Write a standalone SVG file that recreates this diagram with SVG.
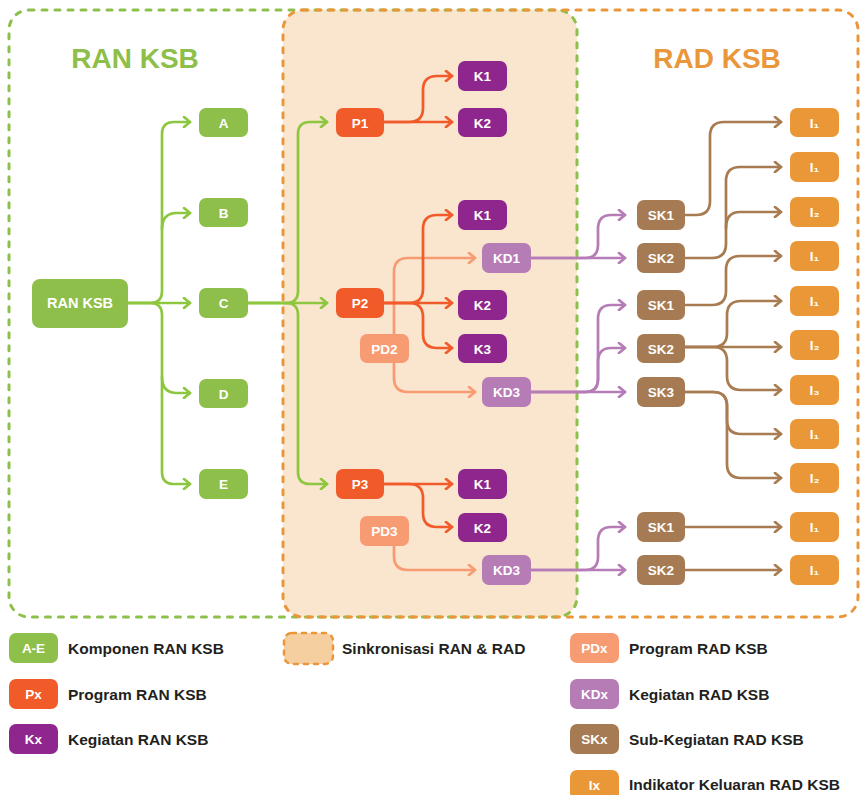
<svg xmlns="http://www.w3.org/2000/svg" width="861" height="795" viewBox="0 0 861 795">
<style>
text{font-family:"Liberation Sans",Arial,sans-serif;font-weight:bold}
.nt{fill:#fff;font-size:13.5px;text-anchor:middle}
.lt{fill:#231F20;font-size:15.5px}
.ttl{font-size:28px;text-anchor:middle}
.c{fill:none;stroke-width:2.7;stroke-linecap:round;stroke-linejoin:round}
.g{stroke:#8DC63F}.r{stroke:#F15A29}.s{stroke:#F79C72}.p{stroke:#B57CB6}.b{stroke:#A87B50}
.fg{fill:#8DBF4A}.fr{fill:#F15A29}.fk{fill:#8E268D}.fs{fill:#F79C72}.fp{fill:#B57CB6}.fb{fill:#A67A52}.fi{fill:#EA9837}
</style>
<defs>
<marker id="ag" viewBox="-8 -6 10 12" refX="0" refY="0" markerWidth="10" markerHeight="12" markerUnits="userSpaceOnUse" orient="auto"><path d="M-6,-5 L0,0 L-6,5" fill="none" stroke="#8DC63F" stroke-width="2.7" stroke-linecap="round" stroke-linejoin="round"/></marker>
<marker id="ar" viewBox="-8 -6 10 12" refX="0" refY="0" markerWidth="10" markerHeight="12" markerUnits="userSpaceOnUse" orient="auto"><path d="M-6,-5 L0,0 L-6,5" fill="none" stroke="#F15A29" stroke-width="2.7" stroke-linecap="round" stroke-linejoin="round"/></marker>
<marker id="as" viewBox="-8 -6 10 12" refX="0" refY="0" markerWidth="10" markerHeight="12" markerUnits="userSpaceOnUse" orient="auto"><path d="M-6,-5 L0,0 L-6,5" fill="none" stroke="#F79C72" stroke-width="2.7" stroke-linecap="round" stroke-linejoin="round"/></marker>
<marker id="ap" viewBox="-8 -6 10 12" refX="0" refY="0" markerWidth="10" markerHeight="12" markerUnits="userSpaceOnUse" orient="auto"><path d="M-6,-5 L0,0 L-6,5" fill="none" stroke="#B57CB6" stroke-width="2.7" stroke-linecap="round" stroke-linejoin="round"/></marker>
<marker id="ab" viewBox="-8 -6 10 12" refX="0" refY="0" markerWidth="10" markerHeight="12" markerUnits="userSpaceOnUse" orient="auto"><path d="M-6,-5 L0,0 L-6,5" fill="none" stroke="#A87B50" stroke-width="2.7" stroke-linecap="round" stroke-linejoin="round"/></marker>
</defs>

<g id="containers">
<rect x="283" y="10" width="294" height="607" rx="20" fill="#FAE5CF"/>
<rect x="9" y="10" width="568" height="607" rx="20" fill="none" stroke="#8DC04A" stroke-width="3" stroke-dasharray="5 8" stroke-linecap="round"/>
<rect x="283" y="10" width="575" height="607" rx="20" fill="none" stroke="#E9973A" stroke-width="3" stroke-dasharray="5 8" stroke-linecap="round"/>
<text class="ttl" x="135" y="68" fill="#8DBF4A">RAN KSB</text>
<text class="ttl" x="717" y="68" fill="#E9973A">RAD KSB</text>
</g>

<g id="connectors">
<g class="c g" marker-end="url(#ag)">
<path d="M128,303 H150 Q162,303 162,291 V134 Q162,122 174,122 H190"/>
<path d="M162,229 Q162,213 177,213 H190"/>
<path d="M128,303 H190"/>
<path d="M162,377 Q162,393 177,393 H190"/>
<path d="M128,303 H150 Q162,303 162,315 V472 Q162,484 174,484 H190"/>
<path d="M248,303 H286 Q298,303 298,291 V134 Q298,122 310,122 H327"/>
<path d="M248,303 H327"/>
<path d="M248,303 H286 Q298,303 298,315 V472 Q298,484 310,484 H327"/>
</g>
<g class="c s" marker-end="url(#as)">
<path d="M394,334 V272 Q394,258 408,258 H475"/>
<path d="M394,363 V378 Q394,392 408,392 H475"/>
<path d="M394,546 V556 Q394,570 408,570 H475"/>
</g>
<g class="c r" marker-end="url(#ar)">
<path d="M384,122 H452"/>
<path d="M384,122 H409 Q423,122 423,108 V90 Q423,76 437,76 H452"/>
<path d="M384,303 H452"/>
<path d="M384,303 H409 Q423,303 423,289 V229 Q423,215 437,215 H452"/>
<path d="M384,303 H409 Q423,303 423,317 V334 Q423,348 437,348 H452"/>
<path d="M384,484 H452"/>
<path d="M384,484 H409 Q423,484 423,498 V513 Q423,527 437,527 H452"/>
</g>
<g class="c p" marker-end="url(#ap)">
<path d="M531,258 H625"/>
<path d="M531,258 H585 Q598,258 598,245 V229 Q598,215 611,215 H625"/>
<path d="M531,392 H625"/>
<path d="M531,392 H585 Q598,392 598,379 V362 Q598,348 611,348 H625"/>
<path d="M531,392 H585 Q598,392 598,379 V319 Q598,305 611,305 H625"/>
<path d="M531,570 H625"/>
<path d="M531,570 H585 Q598,570 598,557 V541 Q598,527 611,527 H625"/>
</g>
<g class="c b" marker-end="url(#ab)">
<path d="M685,215 H696 Q710,215 710,201 V136 Q710,122 724,122 H781"/>
<path d="M685,258 H712 Q726,258 726,244 V181 Q726,167 740,167 H781"/>
<path d="M726,228 Q726,212 740,212 H781"/>
<path d="M685,305 H712 Q726,305 726,291 V270 Q726,256 740,256 H781"/>
<path d="M685,347 H781"/>
<path d="M685,347 H713 Q727,347 727,333 V315 Q727,301 741,301 H781"/>
<path d="M685,347 H713 Q727,347 727,361 V376 Q727,390 741,390 H781"/>
<path d="M685,392 H713 Q727,392 727,406 V420 Q727,434 741,434 H781"/>
<path d="M685,392 H713 Q727,392 727,406 V464 Q727,478 741,478 H781"/>
<path d="M685,527 H781"/>
<path d="M685,570 H781"/>
</g>
</g>

<g id="n-ran"><rect class="fg" x="32" y="279" width="96" height="49" rx="8"/><text class="nt" x="80" y="308" style="font-size:14.5px">RAN KSB</text></g>
<g id="n-a"><rect class="fg" x="199" y="108" width="49" height="29" rx="7"/><text class="nt" x="223.5" y="127.5">A</text></g>
<g id="n-b"><rect class="fg" x="199" y="198" width="49" height="29" rx="7"/><text class="nt" x="223.5" y="217.5">B</text></g>
<g id="n-c"><rect class="fg" x="199" y="288" width="49" height="30" rx="7"/><text class="nt" x="223.5" y="308">C</text></g>
<g id="n-d"><rect class="fg" x="199" y="379" width="49" height="29" rx="7"/><text class="nt" x="223.5" y="398.5">D</text></g>
<g id="n-e"><rect class="fg" x="199" y="469" width="49" height="30" rx="7"/><text class="nt" x="223.5" y="489">E</text></g>

<g id="n-p1"><rect class="fr" x="336" y="108" width="48" height="29" rx="7"/><text class="nt" x="360" y="127.5">P1</text></g>
<g id="n-p2"><rect class="fr" x="336" y="288" width="48" height="30" rx="7"/><text class="nt" x="360" y="308">P2</text></g>
<g id="n-p3"><rect class="fr" x="336" y="469" width="48" height="30" rx="7"/><text class="nt" x="360" y="489">P3</text></g>

<g id="n-p1k1"><rect class="fk" x="458" y="61" width="49" height="30" rx="7"/><text class="nt" x="482.5" y="81">K1</text></g>
<g id="n-p1k2"><rect class="fk" x="458" y="108" width="49" height="29" rx="7"/><text class="nt" x="482.5" y="127.5">K2</text></g>
<g id="n-p2k1"><rect class="fk" x="458" y="200" width="49" height="30" rx="7"/><text class="nt" x="482.5" y="220">K1</text></g>
<g id="n-p2k2"><rect class="fk" x="458" y="290" width="49" height="30" rx="7"/><text class="nt" x="482.5" y="310">K2</text></g>
<g id="n-p2k3"><rect class="fk" x="458" y="334" width="49" height="29" rx="7"/><text class="nt" x="482.5" y="353.5">K3</text></g>
<g id="n-p3k1"><rect class="fk" x="458" y="469" width="49" height="30" rx="7"/><text class="nt" x="482.5" y="489">K1</text></g>
<g id="n-p3k2"><rect class="fk" x="458" y="513" width="49" height="29" rx="7"/><text class="nt" x="482.5" y="532.5">K2</text></g>

<g id="n-pd2"><rect class="fs" x="360" y="334" width="49" height="29" rx="7"/><text class="nt" x="384.5" y="353.5">PD2</text></g>
<g id="n-pd3"><rect class="fs" x="360" y="516" width="49" height="30" rx="7"/><text class="nt" x="384.5" y="536">PD3</text></g>

<g id="n-kd1"><rect class="fp" x="482" y="243" width="49" height="30" rx="7"/><text class="nt" x="506.5" y="263">KD1</text></g>
<g id="n-kd3a"><rect class="fp" x="482" y="377" width="49" height="30" rx="7"/><text class="nt" x="506.5" y="397">KD3</text></g>
<g id="n-kd3b"><rect class="fp" x="482" y="555" width="49" height="30" rx="7"/><text class="nt" x="506.5" y="575">KD3</text></g>

<g id="n-sk1a"><rect class="fb" x="637" y="200" width="48" height="30" rx="7"/><text class="nt" x="661" y="220">SK1</text></g>
<g id="n-sk2a"><rect class="fb" x="637" y="243" width="48" height="30" rx="7"/><text class="nt" x="661" y="263">SK2</text></g>
<g id="n-sk1b"><rect class="fb" x="637" y="290" width="48" height="30" rx="7"/><text class="nt" x="661" y="310">SK1</text></g>
<g id="n-sk2b"><rect class="fb" x="637" y="334" width="48" height="29" rx="7"/><text class="nt" x="661" y="353.5">SK2</text></g>
<g id="n-sk3b"><rect class="fb" x="637" y="377" width="48" height="30" rx="7"/><text class="nt" x="661" y="397">SK3</text></g>
<g id="n-sk1c"><rect class="fb" x="637" y="512" width="48" height="30" rx="7"/><text class="nt" x="661" y="532">SK1</text></g>
<g id="n-sk2c"><rect class="fb" x="637" y="555" width="48" height="30" rx="7"/><text class="nt" x="661" y="575">SK2</text></g>

<g id="n-i1"><rect class="fi" x="790" y="108" width="49" height="29" rx="7"/><text class="nt" x="814.5" y="127.5">I₁</text></g>
<g id="n-i2"><rect class="fi" x="790" y="152" width="49" height="30" rx="7"/><text class="nt" x="814.5" y="172">I₁</text></g>
<g id="n-i3"><rect class="fi" x="790" y="197" width="49" height="30" rx="7"/><text class="nt" x="814.5" y="217">I₂</text></g>
<g id="n-i4"><rect class="fi" x="790" y="241" width="49" height="30" rx="7"/><text class="nt" x="814.5" y="261">I₁</text></g>
<g id="n-i5"><rect class="fi" x="790" y="286" width="49" height="30" rx="7"/><text class="nt" x="814.5" y="306">I₁</text></g>
<g id="n-i6"><rect class="fi" x="790" y="330" width="49" height="30" rx="7"/><text class="nt" x="814.5" y="350">I₂</text></g>
<g id="n-i7"><rect class="fi" x="790" y="375" width="49" height="30" rx="7"/><text class="nt" x="814.5" y="395">I₃</text></g>
<g id="n-i8"><rect class="fi" x="790" y="419" width="49" height="30" rx="7"/><text class="nt" x="814.5" y="439">I₁</text></g>
<g id="n-i9"><rect class="fi" x="790" y="463" width="49" height="30" rx="7"/><text class="nt" x="814.5" y="483">I₂</text></g>
<g id="n-i10"><rect class="fi" x="790" y="512" width="49" height="30" rx="7"/><text class="nt" x="814.5" y="532">I₁</text></g>
<g id="n-i11"><rect class="fi" x="790" y="555" width="49" height="30" rx="7"/><text class="nt" x="814.5" y="575">I₁</text></g>

<g id="legend">
<rect class="fg" x="9" y="633" width="49" height="30" rx="7"/><text class="nt" x="33.5" y="653">A-E</text><text class="lt" x="68" y="653.5">Komponen RAN KSB</text>
<rect class="fr" x="9" y="679" width="49" height="30" rx="7"/><text class="nt" x="33.5" y="699">Px</text><text class="lt" x="68" y="699.5">Program RAN KSB</text>
<rect class="fk" x="9" y="724" width="49" height="30" rx="7"/><text class="nt" x="33.5" y="744">Kx</text><text class="lt" x="68" y="744.5">Kegiatan RAN KSB</text>
<rect x="284" y="633" width="49" height="31" rx="8" fill="#F6CFA0" stroke="#E9973A" stroke-width="2.5" stroke-dasharray="4 6" stroke-linecap="round"/><text class="lt" x="342" y="653.5">Sinkronisasi RAN &amp; RAD</text>
<rect class="fs" x="570" y="633" width="49" height="30" rx="7"/><text class="nt" x="594.5" y="653">PDx</text><text class="lt" x="629" y="653.5">Program RAD KSB</text>
<rect class="fp" x="570" y="679" width="49" height="30" rx="7"/><text class="nt" x="594.5" y="699">KDx</text><text class="lt" x="629" y="699.5">Kegiatan RAD KSB</text>
<rect class="fb" x="570" y="724" width="49" height="30" rx="7"/><text class="nt" x="594.5" y="744">SKx</text><text class="lt" x="629" y="744.5">Sub-Kegiatan RAD KSB</text>
<rect class="fi" x="570" y="770" width="49" height="30" rx="7"/><text class="nt" x="594.5" y="790">Ix</text><text class="lt" x="629" y="790">Indikator Keluaran RAD KSB</text>
</g>
</svg>
